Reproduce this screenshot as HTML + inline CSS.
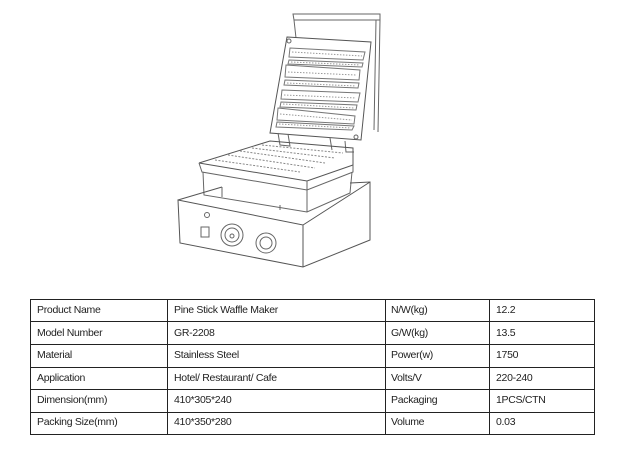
<!DOCTYPE html>
<html><head><style>
body{margin:0;width:621px;height:452px;background:#fff;overflow:hidden;position:relative;font-family:"Liberation Sans",sans-serif;}
svg{position:absolute;left:0;top:0}
.t{position:absolute;font-size:10.5px;color:#222;line-height:1;letter-spacing:-0.3px}
</style></head><body>
<svg width="621" height="452" viewBox="0 0 621 452" fill="none" stroke="#666" stroke-width="1">
<!-- handle -->
<path d="M293 14 L380 14 L380 20 L294 20 Z"/>
<path d="M294 20 L296 38 M380 20 L378 132 M376 20 L374 130"/>
<!-- lid plate -->
<path d="M287 37 L371 42 L361 140 L270 133 Z" stroke="#555"/>
<g stroke="#777">
<path d="M290 48 L365 52 L363 60 L289 57 Z"/>
<path d="M289 60 L363 63 L362 67 L288 64 Z"/>
<path d="M286 65 L360 70 L359 80 L285 77 Z"/>
<path d="M285 80 L359 83 L358 88 L284 85 Z"/>
<path d="M282 90 L360 93 L358 102 L281 99 Z"/>
<path d="M281 102 L357 105 L356 110 L280 107 Z"/>
<path d="M278 108 L355 116 L354 124 L277 120 Z"/>
<path d="M277 122 L354 126 L352 130 L276 127 Z"/>
</g>
<g stroke="#999" stroke-dasharray="1.5 1.5">
<path d="M292 52 L362 56 M291 62 L360 65 M288 72 L356 75 M287 83 L356 86 M284 95 L356 98 M283 104 L354 108 M280 114 L352 120 M279 124 L351 128"/>
</g>
<circle cx="289" cy="41" r="2"/><circle cx="356" cy="137" r="2"/>
<!-- hinges -->
<path d="M278 133 L280 145 L290 146 L288 134 M330 138 L332 150 M345 141 L346 152 L354 152"/>
<!-- lower plate -->
<path d="M199 163 L270 141 L353 148 L353 165 L307 181 Z" stroke="#555"/>
<path d="M199 163 L202 172 L307 190 L353 172 L353 165 M307 181 L307 190"/>
<g stroke="#888" stroke-dasharray="2 1.5">
<path d="M215 160 L300 172 M228 155 L315 168 M240 151 L325 163 M252 148 L335 158 M262 145 L343 153"/>
</g>
<path d="M203 172 L204 195 L307 212 L350 193 L352 172 M307 190 L307 212"/>
<!-- base -->
<path d="M178 200 L222 187 M350 183 L370 182 L370 240 L303 267 L180 243 L178 200 L303 225 L370 182 M303 225 L303 267" stroke="#555"/>
<path d="M222 187 L222 197 M280 205 L280 210"/>
<rect x="201" y="227" width="8" height="10"/>
<circle cx="207" cy="215" r="2.5"/>
<circle cx="232" cy="235" r="11"/><circle cx="232" cy="235" r="7"/><circle cx="232" cy="236" r="2"/>
<circle cx="266" cy="243" r="10"/><circle cx="266" cy="243" r="6"/>
</svg>
<svg width="621" height="452" viewBox="0 0 621 452" stroke="#222" stroke-width="1" shape-rendering="crispEdges">
<rect x="30.5" y="299.5" width="564" height="135" fill="none"/>
<path d="M30 321.5H594M30 344.5H594M30 367.5H594M30 389.5H594M30 412.5H594M167.5 299V434M385.5 299V434M489.5 299V434"/>
</svg>
<div class="t" style="left:37px;top:305px">Product Name</div>
<div class="t" style="left:37px;top:328px">Model Number</div>
<div class="t" style="left:37px;top:350px">Material</div>
<div class="t" style="left:37px;top:373px">Application</div>
<div class="t" style="left:37px;top:395px">Dimension(mm)</div>
<div class="t" style="left:37px;top:417px">Packing Size(mm)</div>
<div class="t" style="left:174px;top:305px">Pine Stick Waffle Maker</div>
<div class="t" style="left:174px;top:328px">GR-2208</div>
<div class="t" style="left:174px;top:350px">Stainless Steel</div>
<div class="t" style="left:174px;top:373px">Hotel/ Restaurant/ Cafe</div>
<div class="t" style="left:174px;top:395px">410*305*240</div>
<div class="t" style="left:174px;top:417px">410*350*280</div>
<div class="t" style="left:391px;top:305px">N/W(kg)</div>
<div class="t" style="left:391px;top:328px">G/W(kg)</div>
<div class="t" style="left:391px;top:350px">Power(w)</div>
<div class="t" style="left:391px;top:373px">Volts/V</div>
<div class="t" style="left:391px;top:395px">Packaging</div>
<div class="t" style="left:391px;top:417px">Volume</div>
<div class="t" style="left:496px;top:305px">12.2</div>
<div class="t" style="left:496px;top:328px">13.5</div>
<div class="t" style="left:496px;top:350px">1750</div>
<div class="t" style="left:496px;top:373px">220-240</div>
<div class="t" style="left:496px;top:395px">1PCS/CTN</div>
<div class="t" style="left:496px;top:417px">0.03</div>
</body></html>
